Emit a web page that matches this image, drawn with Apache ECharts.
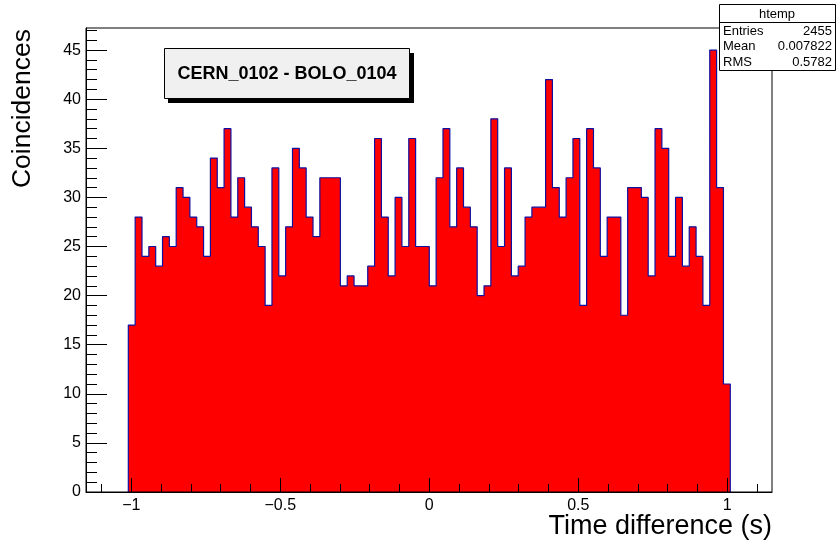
<!DOCTYPE html>
<html>
<head>
<meta charset="utf-8">
<script src="https://cdn.jsdelivr.net/npm/echarts@6/dist/echarts.min.js"></script>
<style>
  html, body { margin: 0; padding: 0; background: #ffffff; }
  #chart { width: 836px; height: 543px; }
</style>
</head>
<body>
<div id="chart"></div>
<script>
// Histogram binning (88 equal bins)
const histLow = -1.01;
const histHigh = 1.01;

// Bin contents, left to right
const counts = [
  17, 28, 24, 25, 23, 26, 25, 31, 30, 28, 27, 24, 34, 31, 37, 28, 32, 29, 27, 25, 19,
  33, 22, 27, 35, 33, 28, 26, 32, 32, 32, 21, 22, 21, 21, 23, 36, 28, 22, 30, 25, 36, 25, 25,
  21, 32, 37, 27, 33, 29, 27, 20, 21, 38, 25, 33, 22, 23, 28, 29, 29, 42, 31, 28, 32, 36, 19, 37,
  33, 24, 28, 28, 18, 31, 31, 30, 22, 37, 35, 24, 30, 23, 27, 24, 19, 45, 31, 11
];

// Axis ranges and tick marks
const xRange = [-1.152, 1.15];
const yRange = [0, 47.25];
const xMajorTicks = [-1, -0.5, 0, 0.5, 1];
const xMinorTicks = [-1.1, -0.9, -0.8, -0.7, -0.6, -0.4, -0.3, -0.2, -0.1,
                     0.1, 0.2, 0.3, 0.4, 0.6, 0.7, 0.8, 0.9, 1.1];
const yMajorTicks = [0, 5, 10, 15, 20, 25, 30, 35, 40, 45];
const yMinorTicks = [1, 2, 3, 4, 6, 7, 8, 9, 11, 12, 13, 14, 16, 17, 18, 19, 21, 22, 23, 24,
                     26, 27, 28, 29, 31, 32, 33, 34, 36, 37, 38, 39, 41, 42, 43, 44, 46, 47];

// Text
const histTitle = 'CERN_0102 - BOLO_0104';
const xTitle = 'Time difference (s)';
const yTitle = 'Coincidences';
const statsName = 'htemp';
const statsRows = [
  ['Entries', '2455'],
  ['Mean', '0.007822'],
  ['RMS', '0.5782']
];

const FONT = '"Liberation Sans", Arial, Helvetica, sans-serif';

// Step outline of the histogram: each point is a bin's left edge and its content
const binWidth = (histHigh - histLow) / counts.length;
const stepPoints = [[histLow, 0]];
counts.forEach((c, i) => stepPoints.push([histLow + i * binWidth, c]));
stepPoints.push([histHigh, counts[counts.length - 1]]);
stepPoints.push([histHigh, 0]);

const fmtX = v => (v < 0 ? '\u2212' + (-v) : String(v));

const chart = echarts.init(document.getElementById('chart'), null, { renderer: 'canvas' });

const grid = { left: 86, right: 64, top: 28, bottom: 51 };
const gx1 = 836 - grid.right, gy0 = grid.top;

const statsX = 719, statsY = 4, statsW = 116, statsH = 66;

// tick marks are drawn on top of the filled histogram
const AXIS_Z = 10;

chart.setOption({
  animation: false,
  backgroundColor: '#ffffff',
  grid: Object.assign({ show: true, borderColor: '#000', borderWidth: 1, backgroundColor: 'transparent', z: AXIS_Z }, grid),
  xAxis: [
    {
      type: 'value', min: xRange[0], max: xRange[1], position: 'bottom', z: AXIS_Z,
      axisLine: { show: true, onZero: false, lineStyle: { color: '#000', width: 1 } },
      axisTick: { show: true, inside: true, length: 14, customValues: xMajorTicks, lineStyle: { color: '#000' } },
      axisLabel: { show: true, customValues: xMajorTicks, formatter: fmtX, margin: 6,
                   color: '#000', fontSize: 16, fontFamily: FONT },
      splitLine: { show: false }
    },
    {
      type: 'value', min: xRange[0], max: xRange[1], position: 'bottom', z: AXIS_Z,
      axisLine: { show: false, onZero: false },
      axisTick: { show: true, inside: true, length: 8, customValues: xMinorTicks, lineStyle: { color: '#000' } },
      axisLabel: { show: false },
      splitLine: { show: false }
    }
  ],
  yAxis: [
    {
      type: 'value', min: yRange[0], max: yRange[1], position: 'left', z: AXIS_Z,
      axisLine: { show: true, onZero: false, lineStyle: { color: '#000', width: 1 } },
      axisTick: { show: true, inside: true, length: 21, customValues: yMajorTicks, lineStyle: { color: '#000' } },
      axisLabel: { show: true, customValues: yMajorTicks, margin: 5,
                   color: '#000', fontSize: 16, fontFamily: FONT },
      splitLine: { show: false }
    },
    {
      type: 'value', min: yRange[0], max: yRange[1], position: 'left', z: AXIS_Z,
      axisLine: { show: false, onZero: false },
      axisTick: { show: true, inside: true, length: 11, customValues: yMinorTicks, lineStyle: { color: '#000' } },
      axisLabel: { show: false },
      splitLine: { show: false }
    }
  ],
  series: [
    {
      name: statsName,
      type: 'line',
      xAxisIndex: 0, yAxisIndex: 0,
      step: 'end',
      data: stepPoints,
      symbol: 'none',
      clip: true,
      lineStyle: { color: '#1010a0', width: 1.2 },
      areaStyle: { color: '#ff0000', opacity: 1, origin: 0 },
      z: 2
    }
  ],
  graphic: [
    // axis titles
    {
      type: 'text', x: 23, y: gy0 + 1, rotation: Math.PI / 2, z: 50,
      style: { text: yTitle, fill: '#000', font: '26.5px ' + FONT, align: 'right', verticalAlign: 'middle' }
    },
    {
      type: 'text', x: gx1, y: 527, z: 50,
      style: { text: xTitle, fill: '#000', font: '27px ' + FONT, align: 'right', verticalAlign: 'middle' }
    },
    // histogram title box with drop shadow
    {
      type: 'rect', z: 60, shape: { x: 168, y: 53, width: 246, height: 50 },
      style: { fill: '#000' }
    },
    {
      type: 'rect', z: 61, shape: { x: 164.5, y: 48.5, width: 245, height: 50 },
      style: { fill: '#f0f0f0', stroke: '#000', lineWidth: 1 }
    },
    {
      type: 'text', x: 287, y: 74, z: 62,
      style: { text: histTitle, fill: '#000', font: 'bold 18px ' + FONT, align: 'center', verticalAlign: 'middle' }
    },
    // statistics box
    {
      type: 'rect', z: 70, shape: { x: statsX + 0.5, y: statsY + 0.5, width: statsW, height: statsH },
      style: { fill: '#fff', stroke: '#000', lineWidth: 1 }
    },
    {
      type: 'line', z: 71, shape: { x1: statsX, y1: statsY + 18.5, x2: statsX + statsW, y2: statsY + 18.5 },
      style: { stroke: '#000', lineWidth: 1 }
    },
    {
      type: 'text', x: statsX + statsW / 2, y: statsY + 10, z: 72,
      style: { text: statsName, fill: '#000', font: '13px ' + FONT, align: 'center', verticalAlign: 'middle' }
    }
  ].concat(
    statsRows.flatMap((row, i) => [
      {
        type: 'text', x: statsX + 4, y: statsY + 27 + i * 15.5, z: 72,
        style: { text: row[0], fill: '#000', font: '13px ' + FONT, align: 'left', verticalAlign: 'middle' }
      },
      {
        type: 'text', x: statsX + statsW - 3, y: statsY + 27 + i * 15.5, z: 72,
        style: { text: row[1], fill: '#000', font: '13px ' + FONT, align: 'right', verticalAlign: 'middle' }
      }
    ])
  )
});
</script>
</body>
</html>
